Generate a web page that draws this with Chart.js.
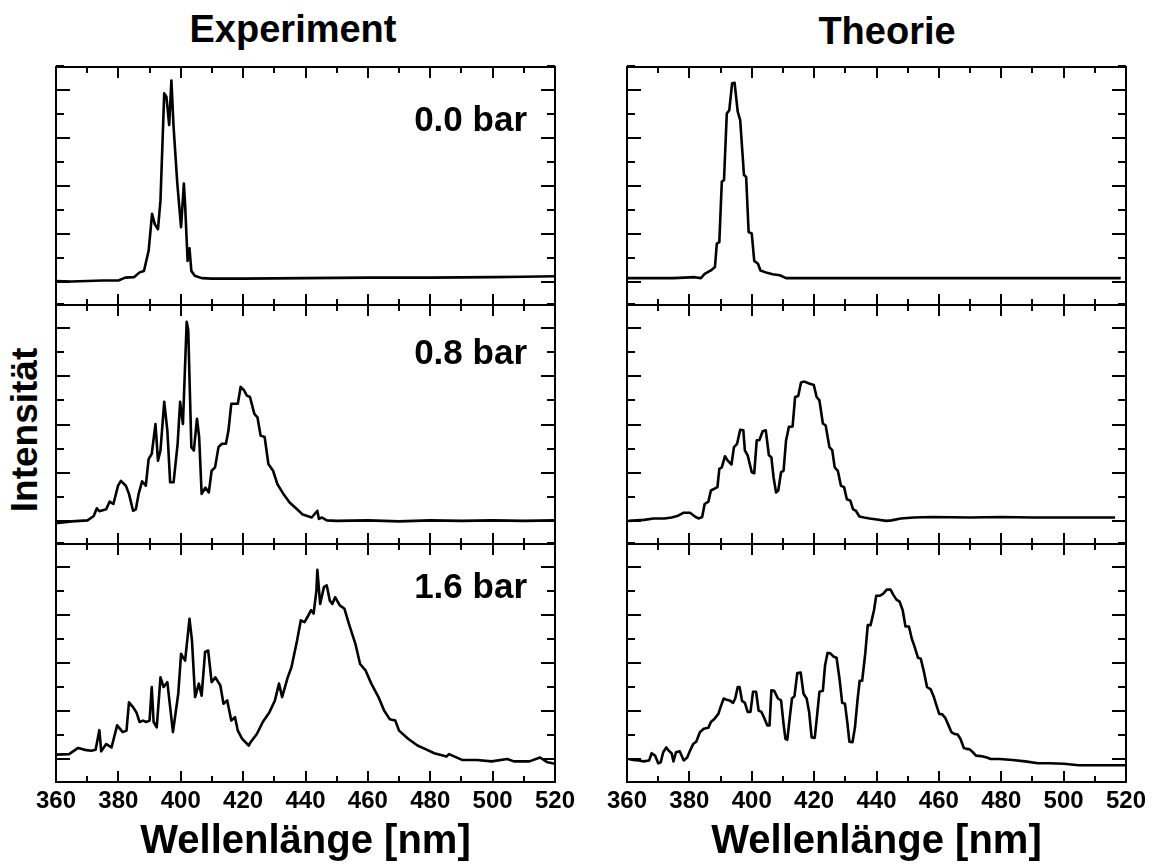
<!DOCTYPE html>
<html>
<head>
<meta charset="utf-8">
<script src="https://cdn.jsdelivr.net/npm/chart.js@4.4.1/dist/chart.umd.min.js"></script>
<style>
  body { margin: 0; background: #fff; width: 1153px; height: 864px; overflow: hidden; position: relative;
         font-family: "Liberation Sans", Arial, sans-serif; font-weight: bold; color: #000; }
  canvas { position: absolute; }
  .head { position: absolute; font-size: 38px; line-height: 38px; transform: translateX(-50%); white-space: nowrap; }
  .ylab { position: absolute; font-size: 37px; line-height: 37px; white-space: nowrap;
          transform: translate(-50%, -50%) rotate(-90deg); }
</style>
</head>
<body>
<div class="head" style="left:293px;top:10px">Experiment</div>
<div class="head" style="left:887px;top:12px">Theorie</div>
<div class="ylab" style="left:24px;top:430px">Intensität</div>

<script>
// wavelength axis
const xTicks = [360, 380, 400, 420, 440, 460, 480, 500, 520];
const yTicks = [0, 1, 2, 3, 4];
const pressures = ["0.0 bar", "0.8 bar", "1.6 bar"];

// Experiment, 0.0 bar
const expLowX = [360, 365, 370, 375, 380, 382.2, 385, 386.8, 388.2, 389.7, 390.8, 391.7, 392.7, 393.5, 394.7, 395.4,
  396.3, 397.0, 397.7, 398.9, 400.1, 401.0, 401.4, 402.2, 402.8, 403.4, 404.5, 406.7, 410, 420, 440, 460, 480, 500, 510, 520];
const expLowY = [0.02, 0.01, 0.02, 0.03, 0.03, 0.09, 0.1, 0.2, 0.23, 0.65, 1.42, 1.2, 1.1, 1.7, 3.93, 3.86,
  3.27, 4.2, 3.23, 2.05, 1.14, 2.05, 1.6, 0.44, 0.7, 0.23, 0.13, 0.08, 0.07, 0.07, 0.08, 0.09, 0.09, 0.1, 0.11, 0.12];

// Experiment, 0.8 bar
const expMidX = [360, 365, 370.1, 372.1, 373.1, 373.9, 376.1, 377.2, 378.4, 379.9, 380.8, 382.4, 383.4, 384.7, 385.6, 386.5,
  387.6, 388.8, 389.7, 390.7, 391.9, 392.7, 393.5, 394.7, 395.7, 396.6, 397.7, 399.0, 399.8, 400.7, 401.9, 402.4,
  403.4, 404.2, 405.2, 405.9, 406.7, 407.9, 409.0, 409.9, 411.0, 412.1, 413.2, 414.5, 415.3, 416.2, 418.3, 419.2,
  420.3, 421.2, 422.2, 423.6, 424.6, 425.6, 426.9, 428.1, 429.6, 431.0, 433.1, 434.9, 437.3, 439.1, 440.6, 442.0,
  443.8, 444.3, 445.3, 446.8, 450, 460, 470, 480, 490, 500, 510, 520];
const expMidY = [-0.05, -0.01, 0.01, 0.1, 0.26, 0.2, 0.24, 0.4, 0.35, 0.73, 0.83, 0.73, 0.56, 0.21, 0.24, 0.56,
  0.82, 0.73, 1.28, 1.39, 2.01, 1.25, 1.46, 2.47, 1.88, 0.8, 0.8, 1.6, 2.47, 2.01, 4.13, 3.96,
  1.53, 1.46, 2.12, 1.74, 0.56, 0.69, 0.59, 1.04, 1.11, 1.53, 1.6, 1.6, 1.88, 2.43, 2.43, 2.78,
  2.71, 2.6, 2.57, 2.22, 2.15, 1.77, 1.74, 1.18, 1.04, 0.76, 0.54, 0.38, 0.24, 0.13, 0.1, 0.07,
  0.21, 0.04, 0.07, 0.01, 0.0, 0.01, -0.01, 0.01, 0.0, 0.01, 0.0, 0.01];

// Experiment, 1.6 bar
const expHighX = [360, 364.2, 367.1, 369.2, 371.3, 372.7, 373.9, 374.5, 376.1, 377.8, 379.6, 381.4, 382.6, 383.4, 384.7, 385.8,
  386.8, 387.9, 388.9, 390.0, 390.7, 391.3, 392.3, 393.5, 394.5, 395.7, 397.5, 399.2, 400.1, 401.4, 402.8, 403.6,
  404.6, 405.8, 406.7, 407.8, 408.8, 409.9, 411.1, 412.7, 413.7, 414.9, 416.2, 417.4, 418.3, 419.7, 421.8, 422.4,
  424.4, 426.3, 428.4, 430.2, 431.5, 432.5, 434.3, 435.5, 437.3, 438.5, 439.7, 440.9, 441.8, 442.6, 443.5, 443.8,
  444.7, 445.9, 446.8, 447.8, 448.6, 449.5, 451.0, 452.5, 453.9, 456.0, 457.5, 459.3, 461.1, 463.4, 465.2, 467.0,
  468.8, 470.0, 472.9, 475.9, 478.3, 481.3, 485.2, 486.0, 490.2, 495.0, 499.7, 504.7, 506.8, 511.8, 515.2, 517.6, 520];
const expHighY = [0.09, 0.1, 0.23, 0.19, 0.17, 0.19, 0.6, 0.16, 0.31, 0.24, 0.7, 0.56, 0.59, 1.18, 1.08, 0.97,
  0.77, 0.8, 0.77, 0.8, 1.5, 0.77, 0.66, 1.7, 1.5, 1.6, 0.56, 1.36, 2.19, 2.05, 2.92, 2.47,
  1.29, 1.57, 1.32, 2.23, 2.26, 1.6, 1.7, 1.53, 1.15, 1.22, 0.8, 0.87, 0.59, 0.42, 0.28, 0.35,
  0.52, 0.77, 0.97, 1.22, 1.57, 1.29, 1.7, 1.91, 2.47, 2.89, 2.85, 2.99, 3.1, 3.03, 3.51, 3.94,
  3.23, 3.58, 3.62, 3.3, 3.23, 3.37, 3.2, 3.13, 2.82, 2.4, 1.98, 1.84, 1.57, 1.29, 1.01, 0.83,
  0.8, 0.59, 0.42, 0.28, 0.21, 0.12, 0.05, 0.1, -0.02, -0.02, -0.05, 0.0, -0.05, -0.05, 0.03, -0.07, -0.1];

// Theorie, 0.0 bar
const theoLowX = [360, 374.9, 381.7, 383.7, 384.9, 386.9, 388.2, 388.8, 389.6, 390.4, 391.1, 392.0, 392.8, 393.7, 394.5, 395.5,
  396.3, 397.5, 398.2, 399.0, 400.0, 400.8, 402.0, 402.8, 404.9, 406.7, 409.0, 411.0, 417.2, 440, 480, 518.3];
const theoLowY = [0.08, 0.08, 0.1, 0.08, 0.17, 0.24, 0.31, 0.8, 0.83, 2.09, 2.12, 3.51, 3.58, 4.14, 4.15, 3.55,
  3.37, 2.23, 2.19, 1.04, 1.01, 0.44, 0.38, 0.24, 0.19, 0.16, 0.14, 0.08, 0.08, 0.08, 0.08, 0.08];

// Theorie, 0.8 bar
const theoMidX = [360.5, 365.5, 368.5, 372.0, 374.3, 376.1, 378.2, 380.2, 382.0, 382.9, 384.1, 384.9, 386.1, 386.9, 388.1, 389.0,
  389.6, 390.4, 391.4, 392.3, 393.5, 394.3, 395.3, 396.3, 397.3, 397.8, 398.7, 400.0, 400.8, 401.6, 402.5, 403.5,
  404.5, 405.5, 406.3, 407.0, 407.8, 408.5, 409.4, 410.2, 411.0, 411.9, 413.1, 413.9, 414.9, 415.8, 416.9, 418.4,
  419.9, 420.8, 421.7, 422.8, 423.7, 424.9, 425.8, 426.6, 427.6, 428.6, 429.6, 430.5, 431.6, 432.5, 433.4, 434.5,
  436.0, 437.8, 440.1, 443.1, 444.8, 447.8, 451.9, 457.8, 470.1, 480.1, 490.1, 500.1, 516.5];
const theoMidY = [0.0, 0.02, 0.05, 0.05, 0.07, 0.1, 0.17, 0.17, 0.08, 0.05, 0.08, 0.35, 0.4, 0.63, 0.67, 0.7,
  1.08, 1.11, 1.34, 1.25, 1.17, 1.53, 1.6, 1.89, 1.88, 1.46, 1.36, 1.01, 0.99, 1.67, 1.68, 1.86,
  1.88, 1.36, 1.32, 0.9, 0.59, 0.63, 1.01, 1.04, 1.67, 1.95, 1.96, 2.57, 2.59, 2.87, 2.89, 2.85,
  2.82, 2.57, 2.5, 2.02, 1.98, 1.53, 1.47, 1.11, 1.04, 0.73, 0.7, 0.45, 0.42, 0.24, 0.21, 0.09,
  0.07, 0.05, 0.03, 0.0, 0.01, 0.05, 0.07, 0.08, 0.07, 0.08, 0.07, 0.07, 0.07];

// Theorie, 1.6 bar
const theoHighX = [360.5, 362.0, 363.8, 365.3, 367.1, 367.9, 369.0, 370.0, 370.8, 371.6, 372.6, 373.4, 374.3, 374.9, 375.7, 376.9,
  378.2, 379.3, 380.2, 381.2, 382.2, 383.4, 384.6, 386.1, 386.9, 388.1, 389.3, 390.0, 391.0, 391.7, 392.9, 394.0,
  394.7, 395.5, 396.1, 396.9, 397.8, 398.7, 399.6, 400.4, 401.4, 402.2, 403.1, 404.1, 405.0, 405.7, 406.3, 407.2,
  408.4, 409.4, 410.2, 410.8, 411.4, 412.2, 412.9, 413.7, 414.6, 415.7, 416.6, 417.6, 418.4, 419.2, 420.2, 421.0,
  421.7, 422.8, 423.5, 424.3, 425.2, 426.3, 427.2, 428.2, 429.0, 429.9, 430.7, 431.3, 432.3, 433.1, 433.9, 434.6,
  435.4, 436.4, 437.2, 438.1, 439.2, 439.9, 441.0, 442.1, 443.3, 444.5, 445.4, 446.4, 447.4, 448.4, 449.3, 450.4,
  451.3, 452.2, 453.3, 454.2, 455.2, 456.2, 457.4, 458.4, 459.2, 460.1, 461.1, 462.1, 463.1, 464.0, 465.1, 466.0,
  466.9, 468.0, 468.9, 469.9, 470.9, 471.9, 473.4, 475.4, 476.6, 479.5, 483.6, 487.7, 491.8, 495.4, 500.1, 504.8,
  510.1, 519.7];
const theoHighY = [0.0, -0.02, -0.03, -0.05, -0.03, 0.12, 0.07, -0.09, -0.07, 0.14, 0.24, 0.17, 0.12, -0.05, 0.14, 0.16,
  -0.03, 0.03, 0.17, 0.31, 0.36, 0.56, 0.63, 0.65, 0.77, 0.84, 0.94, 1.08, 1.26, 1.24, 1.22, 1.17,
  1.26, 1.5, 1.5, 1.21, 1.17, 0.98, 0.98, 1.4, 1.4, 1.01, 0.98, 0.84, 0.7, 0.7, 1.43, 1.42,
  1.26, 1.22, 0.73, 0.42, 0.4, 0.87, 1.26, 1.31, 1.79, 1.8, 1.36, 1.26, 0.98, 0.45, 0.44, 0.94,
  1.4, 1.42, 1.95, 2.21, 2.2, 2.13, 2.11, 1.64, 1.17, 1.15, 0.73, 0.36, 0.35, 0.66, 1.22, 1.63,
  1.63, 2.2, 2.79, 2.79, 3.1, 3.4, 3.4, 3.44, 3.53, 3.53, 3.42, 3.32, 3.28, 3.1, 2.76, 2.76,
  2.51, 2.34, 2.11, 2.09, 1.82, 1.5, 1.45, 1.29, 1.12, 0.94, 0.93, 0.85, 0.7, 0.56, 0.52, 0.51,
  0.42, 0.23, 0.21, 0.2, 0.14, 0.07, 0.06, 0.03, 0.0, 0.0, -0.02, -0.05, -0.09, -0.09, -0.1, -0.13,
  -0.13, -0.13];

const series = [
  [expLowX, expLowY], [expMidX, expMidY], [expHighX, expHighY],
  [theoLowX, theoLowY], [theoMidX, theoMidY], [theoHighX, theoHighY],
];

const FONT = '"Liberation Sans", Arial, sans-serif';
const colLeft = [56, 627];
const rowTop = [67, 305, 544];
const rowH = [238, 239, 238];
const plotW = 499;
const labelTop = [54, 49, 44];

// frame, inward ticks and the pressure label
const framePlugin = {
  id: 'frame',
  afterDatasetsDraw(chart, args, opts) {
    const { ctx, chartArea: a, scales: { x, y } } = chart;
    ctx.save();
    ctx.strokeStyle = '#000';
    ctx.lineWidth = 2;
    ctx.strokeRect(a.left, a.top, a.right - a.left, a.bottom - a.top);
    ctx.beginPath();
    for (let i = 0; i < xTicks.length; i++) {
      const px = Math.round(x.getPixelForValue(xTicks[i]));
      ctx.moveTo(px, a.top); ctx.lineTo(px, a.top + 11);
      ctx.moveTo(px, a.bottom); ctx.lineTo(px, a.bottom - 11);
      if (i < xTicks.length - 1) {
        const pm = Math.round(x.getPixelForValue((xTicks[i] + xTicks[i + 1]) / 2));
        ctx.moveTo(pm, a.top); ctx.lineTo(pm, a.top + 6);
        ctx.moveTo(pm, a.bottom); ctx.lineTo(pm, a.bottom - 6);
      }
    }
    for (let i = 0; i < yTicks.length; i++) {
      const py = Math.round(y.getPixelForValue(yTicks[i]));
      ctx.moveTo(a.left, py); ctx.lineTo(a.left + 14, py);
      ctx.moveTo(a.right, py); ctx.lineTo(a.right - 14, py);
      const pm = Math.round(y.getPixelForValue(yTicks[i] + 0.5));
      ctx.moveTo(a.left, pm); ctx.lineTo(a.left + 8, pm);
      ctx.moveTo(a.right, pm); ctx.lineTo(a.right - 8, pm);
    }
    ctx.stroke();
    if (opts.label) {
      ctx.fillStyle = '#000';
      ctx.font = 'bold 35px ' + FONT;
      ctx.textAlign = 'right';
      ctx.textBaseline = 'middle';
      ctx.fillText(opts.label, a.right - 28, a.top + opts.labelTop);
    }
    ctx.restore();
  }
};

function makePanel(col, row) {
  const [xs, ys] = series[col * 3 + row];
  const bottom = row === 2;
  const canvas = document.createElement('canvas');
  const w = plotW + 60;
  const h = rowH[row] + 10 + (bottom ? 80 : 10);
  canvas.width = w; canvas.height = h;
  canvas.style.left = (colLeft[col] - 30) + 'px';
  canvas.style.top = (rowTop[row] - 10) + 'px';
  canvas.style.width = w + 'px'; canvas.style.height = h + 'px';
  document.body.appendChild(canvas);

  new Chart(canvas, {
    type: 'line',
    data: {
      datasets: [{
        data: xs.map((v, i) => ({ x: v, y: ys[i] })),
        borderColor: '#000',
        borderWidth: 2.6,
        borderJoinStyle: 'round',
        pointRadius: 0,
        tension: 0,
        fill: false,
      }],
    },
    options: {
      responsive: false,
      animation: false,
      events: [],
      layout: { padding: { left: 30, right: 30, top: 10, bottom: bottom ? 0 : 10 } },
      scales: {
        x: {
          type: 'linear', min: 360, max: 520,
          display: bottom,
          grid: { display: false, drawTicks: false },
          border: { display: false },
          afterBuildTicks: (s) => { s.ticks = xTicks.map((v) => ({ value: v })); },
          afterFit: (s) => { if (bottom) s.height = 80; },
          ticks: {
            autoSkip: false, maxRotation: 0, padding: 5, color: '#000',
            font: { family: FONT, size: 24, weight: 'bold' },
          },
          title: {
            display: true, text: 'Wellenlänge [nm]', color: '#000', padding: 0,
            font: { family: FONT, size: 40, weight: 'bold', lineHeight: 1 },
          },
        },
        y: { type: 'linear', min: -0.48, max: 4.48, display: false },
      },
      plugins: {
        legend: { display: false },
        tooltip: { enabled: false },
        frame: col === 0 ? { label: pressures[row], labelTop: labelTop[row] } : {},
      },
    },
    plugins: [framePlugin],
  });
}

for (let c = 0; c < 2; c++) for (let r = 0; r < 3; r++) makePanel(c, r);
</script>
</body>
</html>
